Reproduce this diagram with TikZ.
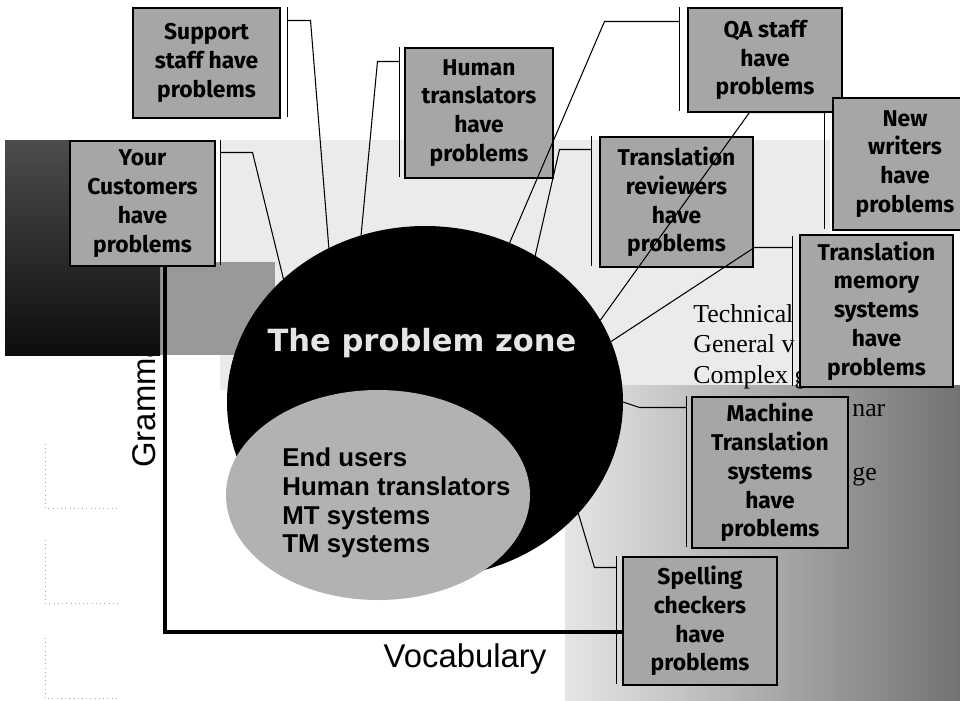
\documentclass[tikz,border=0pt]{standalone}
\usepackage{fontspec}
\setmainfont{Liberation Serif}
\setsansfont{Liberation Sans}
\newfontfamily\calloutfont{Fira Sans}
\newfontfamily\zonefont{DejaVu Sans}
\usetikzlibrary{shapes.geometric}

\begin{document}
\begin{tikzpicture}[x=0.02cm, y=-0.02cm,
  callout/.style 2 args={draw=black, line width=0.6pt, fill=black!35, align=center,
    font=\calloutfont\bfseries\fontsize{13}{16.4}\selectfont,
    inner sep=0pt, minimum width=#1*0.02cm, minimum height=#2*0.02cm},
  accent/.style={line width=1pt},
  leader/.style={line width=0.6pt},
  axisline/.style={line width=1.8pt},
  term/.style={anchor=base west, inner sep=0pt, font=\fontsize{14.7}{18}\selectfont}]

  \useasboundingbox (0,0) rectangle (960,700);
  \clip (0,0) rectangle (960,700);
  \fill[white] (0,0) rectangle (960,700);

  % background tones of the slide
  \fill[black!8] (220,140) rectangle (830,390);
  \fill[black!40] (160,262) rectangle (275,355);
  \shade[left color=black!10, right color=black!55] (565,385) rectangle (960,700);
  \draw[black!35, dotted] (45,444) -- (45,508) -- (118,508);
  \draw[black!35, dotted] (45,540) -- (45,603) -- (118,603);
  \draw[black!35, dotted] (45,638) -- (45,698) -- (118,698);

  % text partly hidden behind the callouts
  \node[term] (tech) at (693,322) {Technical};
  \node[term] (general) at (693,352) {General v};
  \node[term] (complex) at (693,383) {Complex g};
  \node[term] (gram2) at (852,416) {nar};
  \node[term] (lang) at (852,480) {ge};

  % the problem zone and its users
  \node[ellipse, fill=black, inner sep=0pt, outer sep=0pt,
    minimum width=396*0.02cm, minimum height=352*0.02cm] (zone) at (425,402) {};
  \node[ellipse, fill=black!30, inner sep=0pt, outer sep=0pt,
    minimum width=304*0.02cm, minimum height=210*0.02cm] (users) at (378,495) {};
  \node[font=\zonefont\bfseries\fontsize{17.4}{20}\selectfont, text=black!10] (zonetext) at (422,343) {The problem zone};
  \node[anchor=west, align=left, inner sep=0pt,
    font=\sffamily\bfseries\fontsize{14.7}{16.4}\selectfont] (userlist) at (282,503)
    {End users\\Human translators\\MT systems\\TM systems};

  % axes
  \coordinate (ytop) at (165,265);
  \coordinate (origin) at (165,632);
  \coordinate (xend) at (625,632);
  \draw[axisline] (ytop) -- (origin) -- (xend);
  \node[font=\sffamily\fontsize{18.7}{20}\selectfont, anchor=base west, rotate=90, inner sep=0pt] (grammar) at (155,468) {Grammar};
  \node[font=\sffamily\fontsize{18.7}{20}\selectfont, anchor=base, inner sep=0pt] (vocab) at (465,667) {Vocabulary};

  % dark shadow on the left
  \shade[top color=black!70, bottom color=black!95] (5,140) rectangle (160,355);

  % callouts
  \node[callout={147}{110}] (support) at (206.5,63) {Support\\staff have\\problems};
  \node[callout={148}{130}] (human) at (479,113) {Human\\translators\\have\\problems};
  \node[callout={145}{125}] (customers) at (142.5,203.5) {Your\\Customers\\have\\problems};
  \node[callout={154}{104}] (qa) at (765,60) {QA staff\\have\\problems};
  \node[callout={144}{132}] (writers) at (905,164) {New\\writers\\have\\problems};
  \node[callout={153}{130}] (reviewers) at (676.5,202) {Translation\\reviewers\\have\\problems};
  \node[callout={153}{152}] (memory) at (876.5,311) {Translation\\memory\\systems\\have\\problems};
  \node[callout={156}{151}] (machine) at (770,472.5) {Machine\\Translation\\systems\\have\\problems};
  \node[callout={154}{128}] (spelling) at (700,621) {Spelling\\checkers\\have\\problems};

  % accent bars and leader lines
  \draw[accent] (support.north east) ++(7,0) -- ++(0,110);
  \draw[leader] (support.north east) ++(7,13) -- ++(23,0) -- (zone.122);
  \draw[accent] (human.north west) ++(-5,0) -- ++(0,130);
  \draw[leader] (human.north west) ++(-5,14) -- ++(-22,0) -- (zone.111);
  \draw[accent] (customers.north east) ++(5,0) -- ++(0,125);
  \draw[leader] (customers.north east) ++(5,12) -- ++(32,0) -- (zone.139);
  \draw[accent] (qa.north west) ++(-8,0) -- ++(0,104);
  \draw[leader] (qa.north west) ++(-8,14) -- ++(-75,0) -- (zone.62);
  \draw[accent] (writers.north west) ++(-8,15) -- ++(0,117);
  \draw[leader] (writers.north west) ++(-8,15) -- ++(-75,0) -- (zone.25);
  \draw[accent] (reviewers.north west) ++(-8,0) -- ++(0,130);
  \draw[leader] (reviewers.north west) ++(-8,13) -- ++(-32,0) -- (zone.53);
  \draw[accent] (memory.north west) ++(-7,2) -- ++(0,150);
  \draw[leader] (memory.north west) ++(-7,13) -- ++(-38,0) -- (zone.18);
  \draw[accent] (machine.north west) ++(-5,0) -- ++(0,151);
  \draw[leader] (machine.north west) ++(-5,11) -- ++(-47,0) -- (zone.0);
  \draw[accent] (spelling.north west) ++(-6,0) -- ++(0,128);
  \draw[leader] (spelling.north west) ++(-6,11) -- ++(-22,0) -- (zone.-36);

\end{tikzpicture}
\end{document}
